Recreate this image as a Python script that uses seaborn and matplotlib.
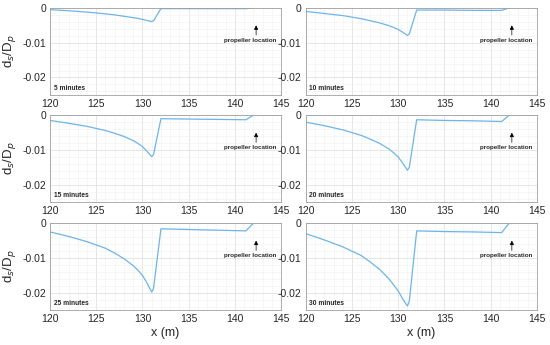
import numpy as np
import pandas as pd
import matplotlib.pyplot as plt
import matplotlib.ticker as mticker
import seaborn as sns

#values
x_m = [120, 122, 124, 126, 127, 128, 129, 129.5, 130, 130.5, 131, 131.2, 132, 135, 138, 141.2, 142]
minutes = ["5 minutes", "10 minutes", "15 minutes", "20 minutes", "25 minutes", "30 minutes"]
ds_5 = [-0.0005, -0.0008, -0.0012, -0.0017, -0.0020, -0.0024, -0.0028, -0.0030, -0.0033, -0.0036, -0.0039, -0.0037, -0.0002, -0.0002, -0.0002, -0.0002, 0.0]
ds_10 = [-0.0010, -0.0016, -0.0022, -0.0031, -0.0037, -0.0043, -0.0051, -0.0056, -0.0062, -0.0070, -0.0079, -0.0075, -0.0006, -0.0006, -0.0007, -0.0007, 0.0]
ds_15 = [-0.0015, -0.0023, -0.0032, -0.0044, -0.0052, -0.0061, -0.0073, -0.0081, -0.0090, -0.0104, -0.0119, -0.0113, -0.0010, -0.0011, -0.0012, -0.0013, 0.0]
ds_20 = [-0.0020, -0.0030, -0.0042, -0.0058, -0.0069, -0.0081, -0.0097, -0.0108, -0.0120, -0.0138, -0.0158, -0.0150, -0.0013, -0.0015, -0.0016, -0.0018, 0.0]
ds_25 = [-0.0025, -0.0038, -0.0053, -0.0072, -0.0086, -0.0102, -0.0122, -0.0135, -0.0150, -0.0172, -0.0198, -0.0188, -0.0016, -0.0018, -0.0020, -0.0022, 0.0]
ds_30 = [-0.0030, -0.0048, -0.0068, -0.0093, -0.0112, -0.0133, -0.0160, -0.0177, -0.0195, -0.0218, -0.0238, -0.0225, -0.0022, -0.0024, -0.0025, -0.0027, 0.0]
x_ticks = [120, 125, 130, 135, 140, 145]
y_ticks = [-0.02, -0.01, 0]

profiles = pd.concat([
    pd.DataFrame({"x": x_m, "ds": vals, "time": label})
    for label, vals in zip(minutes, [ds_5, ds_10, ds_15, ds_20, ds_25, ds_30])
    ])

sns.set_style("white")
plt.rcParams['font.family'] = ['Liberation Sans', 'DejaVu Sans']

fig = plt.figure(figsize=(5.5, 3.45), dpi=100)
lefts = [0.091, 0.556]
bottoms = [0.725, 0.414, 0.101]
w, h = 0.42, 0.252

for i, label in enumerate(minutes):
    row, col = i // 2, i % 2
    ax = fig.add_axes([lefts[col], bottoms[row], w, h])
    sns.lineplot(
        data = profiles[profiles["time"] == label],
        x = "x",
        y = "ds",
        ax = ax,
        color = "#6db5e6",
        linewidth = 0.9,
        )
    ax.set_xlim(120, 145)
    ax.set_ylim(-0.025, 0)
    ax.set_xticks(x_ticks)
    ax.set_yticks(y_ticks)
    ax.yaxis.set_major_formatter(mticker.FuncFormatter(lambda v, p: "0" if v == 0 else f"{v:.2f}"))
    ax.xaxis.set_minor_locator(mticker.MultipleLocator(1))
    ax.yaxis.set_minor_locator(mticker.MultipleLocator(0.002))
    ax.grid(which = "major", color = "#e2e2e2", linewidth = 0.6)
    ax.grid(which = "minor", color = "#f0f0f0", linewidth = 0.4)
    ax.set_axisbelow(True)
    for s in ax.spines.values():
        s.set_color("#a0a0a0")
        s.set_linewidth(0.6)
    ax.tick_params(labelsize = 7.5, colors = "#262626", length = 0, pad = 3)
    ax.tick_params(which = "minor", length = 0)
    ax.set_xlabel("x (m)" if row == 2 else "", fontsize = 9, labelpad = 2)
    ax.set_ylabel(r"d$_s$/D$_p$" if col == 0 else "", fontsize = 9.5, labelpad = 3)
    ax.text(120.4, -0.0232, label, fontsize = 4.8, fontweight = "bold", va = "center")
    ax.annotate(
        "",
        xy = (142.3, -0.0042),
        xytext = (142.3, -0.0086),
        arrowprops = dict(arrowstyle = "-|>", color = "black", lw = 0.5, mutation_scale = 6),
        )
    ax.text(141.7, -0.0094, "propeller location", fontsize = 4.5, fontweight = "bold",
            ha = "center", va = "center")

fig.savefig("out.png", dpi = 100)
